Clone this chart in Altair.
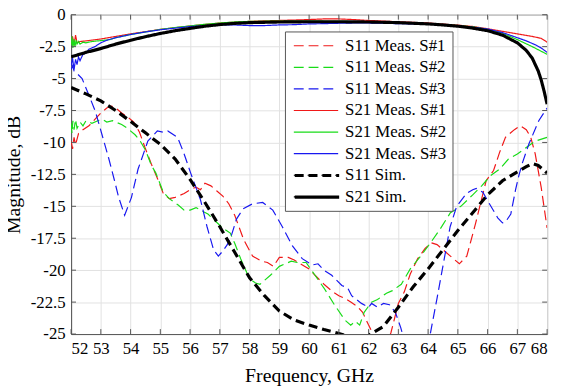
import altair as alt
import pandas as pd

# ---------------- data ----------------
names = ["S11 Meas. S#1", "S11 Meas. S#2", "S11 Meas. S#3",
         "S21 Meas. S#1", "S21 Meas. S#2", "S21 Meas. S#3",
         "S11 Sim.", "S21 Sim."]

s11_m1_x = [52.0, 52.05, 52.1, 52.15, 52.25, 52.4, 52.6, 52.8, 53.0, 53.2, 53.35, 53.5, 53.7, 53.9,
            54.1, 54.3, 54.5, 54.7, 54.9, 55.1, 55.3, 55.5, 55.8, 56.0, 56.2, 56.35, 56.5, 56.7, 56.9,
            57.1, 57.3, 57.5, 57.8, 58.1, 58.4, 58.6, 58.8, 59.0, 59.3, 59.5, 59.7, 60.0, 60.2, 60.5,
            60.8, 61.0, 61.2, 61.4, 61.6, 61.8, 62.0, 62.15, 62.3, 62.5, 62.65, 62.75, 63.0, 63.2,
            63.4, 63.65, 63.9, 64.1, 64.3, 64.5, 64.75, 65.05, 65.3, 65.6, 65.95, 66.2, 66.4, 66.6,
            66.9, 67.1, 67.3, 67.45, 67.6, 67.8, 68.0]
s11_m1_y = [-9.9, -10.5, -9.6, -10.2, -9.3, -9.0, -8.7, -8.2, -7.7, -7.3, -7.15, -7.3, -7.7, -8.0,
            -8.4, -9.2, -10.5, -11.7, -12.8, -14.0, -14.4, -14.3, -14.0, -13.7, -13.5, -13.7, -13.2,
            -13.4, -13.8, -14.2, -14.8, -15.7, -17.6, -18.9, -19.3, -19.4, -19.7, -19.0, -19.0, -19.2,
            -19.5, -19.9, -20.4, -21.1, -21.7, -22.0, -22.2, -22.5, -22.8, -23.3, -24.3, -25.0, -25.6,
            -26.0, -25.5, -24.9, -22.6, -21.7, -20.3, -19.1, -18.3, -17.85, -18.0, -18.4, -18.9, -19.5,
            -18.9, -16.3, -13.0, -12.2, -10.8, -9.6, -9.0, -8.7, -9.0, -9.6, -10.9, -13.5, -16.7]

s11_m2_x = [52.0, 52.03, 52.06, 52.1, 52.15, 52.2, 52.3, 52.4, 52.5, 52.7, 52.9, 53.05, 53.2, 53.4,
            53.7, 53.9, 54.15, 54.3, 54.5, 54.7, 54.85, 55.1, 55.3, 55.6, 55.8, 56.0, 56.2, 56.35, 56.6,
            56.8, 57.1, 57.35, 57.5, 57.7, 58.0, 58.2, 58.35, 58.5, 58.7, 59.0, 59.2, 59.4, 59.6, 59.9,
            60.2, 60.5, 60.85, 61.2, 61.4, 61.55, 61.7, 61.85, 62.1, 62.3, 62.6, 62.8, 63.1, 63.4,
            63.75, 64.1, 64.4, 64.75, 65.1, 65.5, 65.8, 66.1, 66.4, 66.7, 67.0, 67.3, 67.6, 68.0]
s11_m2_y = [-8.5, -9.3, -8.3, -9.0, -8.2, -8.9, -8.4, -8.7, -8.3, -8.5, -8.3, -8.2, -8.4, -8.3,
            -8.6, -8.9, -9.4, -9.8, -10.6, -11.8, -12.4, -13.9, -14.4, -14.9, -15.3, -15.3, -15.1,
            -15.3, -15.6, -16.05, -16.7, -17.1, -17.9, -19.1, -20.7, -21.0, -21.1, -20.8, -20.4, -19.7,
            -19.5, -19.3, -19.4, -19.4, -20.4, -21.4, -22.7, -23.9, -24.3, -24.0, -24.3, -23.3, -22.5,
            -22.3, -21.8, -21.6, -21.1, -19.9, -18.9, -17.8, -16.8, -15.5, -15.0, -14.1, -13.4, -12.6,
            -12.1, -11.3, -10.9, -10.4, -9.9, -9.6]

s11_m3_x = [52.0, 52.05, 52.1, 52.2, 52.37, 52.6, 52.82, 53.04, 53.26, 53.45, 53.6, 53.8, 54.03, 54.25,
            54.58, 54.9, 55.1, 55.25, 55.58, 55.8, 56.02, 56.35, 56.57, 56.79, 56.95, 57.1, 57.25, 57.4,
            57.56, 57.78, 58.1, 58.44, 58.78, 59.1, 59.44, 59.77, 60.1, 60.3, 60.5, 60.76, 61.1, 61.3,
            61.43, 61.76, 62.0, 62.1, 62.3, 62.5, 62.7, 62.9, 63.08, 63.2, 63.5, 63.9, 64.08, 64.3,
            64.52, 64.74, 64.96, 65.29, 65.5, 65.62, 65.84, 66.06, 66.34, 66.5, 66.61, 66.78, 66.94,
            67.05, 67.17, 67.39, 67.72, 68.0]
s11_m3_y = [-4.3, -4.0, -4.4, -4.6, -5.0, -6.3, -7.6, -9.4, -11.2, -12.9, -14.3, -15.7, -14.3, -12.1,
            -9.9, -9.1, -9.2, -9.1, -9.6, -10.9, -12.4, -14.5, -16.6, -18.4, -18.9, -18.5, -18.0, -17.2,
            -16.0, -15.2, -14.8, -14.7, -15.3, -16.6, -18.1, -19.1, -19.6, -19.5, -20.0, -20.4, -21.2,
            -21.4, -22.0, -22.6, -22.9, -22.6, -22.9, -22.6, -22.7, -23.3, -24.5, -25.5, -27.0, -26.5,
            -24.9, -22.2, -19.4, -16.6, -15.0, -14.0, -13.7, -13.6, -13.9, -14.8, -15.9, -16.3, -16.2,
            -15.6, -13.7, -12.6, -11.6, -10.1, -8.3, -7.3]

s21_m1_x = [52.0, 52.05, 52.1, 52.15, 52.2, 52.3, 52.5, 53.0, 54.0, 55.0, 56.0, 57.0, 58.0, 59.0,
            60.0, 60.5, 61.0, 61.5, 62.0, 63.0, 64.0, 65.0, 65.5, 66.0, 66.5, 67.0, 67.5, 67.8, 68.0]
s21_m1_y = [-2.3, -1.7, -2.4, -1.6, -2.2, -2.1, -2.05, -1.9, -1.5, -1.15, -0.88, -0.65, -0.52, -0.45,
            -0.38, -0.33, -0.33, -0.38, -0.45, -0.55, -0.65, -0.82, -0.92, -1.1, -1.3, -1.5, -1.7,
            -1.85, -2.15]

s21_m2_x = [52.0, 52.03, 52.06, 52.1, 52.13, 52.17, 52.2, 52.25, 52.3, 52.4, 52.5, 52.7, 52.9, 53.1,
            53.3, 53.5, 54.0, 54.5, 55.0, 55.5, 56.0, 56.5, 57.0, 57.5, 58.0, 59.0, 60.0, 61.0, 62.0,
            63.0, 64.0, 65.0, 65.5, 66.0, 66.5, 67.0, 67.5, 68.0]
s21_m2_y = [-2.4, -1.7, -2.6, -1.9, -2.5, -2.0, -2.3, -2.1, -2.3, -2.15, -2.2, -2.1, -2.05, -2.0,
            -1.95, -1.8, -1.55, -1.35, -1.15, -1.0, -0.88, -0.75, -0.65, -0.57, -0.52, -0.5, -0.5,
            -0.52, -0.55, -0.6, -0.7, -0.85, -0.95, -1.15, -1.45, -1.95, -2.5, -3.1]

s21_m3_x = [52.0, 52.05, 52.1, 52.15, 52.2, 52.25, 52.3, 52.4, 52.5, 52.6, 52.8, 53.0, 53.2, 53.5,
            54.0, 54.5, 55.0, 55.5, 56.0, 56.5, 57.0, 57.5, 58.0, 58.5, 59.0, 59.5, 60.0, 60.5, 61.0,
            61.5, 62.0, 62.5, 63.0, 63.5, 64.0, 64.5, 65.0, 65.5, 66.0, 66.5, 67.0, 67.3, 67.6, 67.8, 68.0]
s21_m3_y = [-4.0, -3.4, -4.3, -3.5, -3.9, -3.3, -3.6, -3.1, -3.0, -2.7, -2.5, -2.2, -2.0, -1.8,
            -1.55, -1.35, -1.18, -1.05, -0.93, -0.85, -0.8, -0.8, -0.85, -0.85, -0.8, -0.78, -0.72,
            -0.7, -0.67, -0.65, -0.65, -0.67, -0.7, -0.72, -0.75, -0.8, -0.88, -0.98, -1.12, -1.4,
            -1.8, -2.05, -2.35, -2.6, -2.95]

s11_sim_x = [52.0, 52.5, 53.0, 53.5, 54.0, 54.5, 55.0, 55.5, 56.0, 56.5, 57.0, 57.5, 58.0, 58.5, 59.0,
             59.5, 60.0, 60.5, 61.0, 61.5, 62.0, 62.5, 63.0, 63.5, 64.0, 64.5, 65.0, 65.5, 66.0, 66.5,
             67.0, 67.3, 67.5, 67.7, 68.0]
s11_sim_y = [-5.7, -6.2, -6.75, -7.5, -8.35, -9.25, -10.15, -11.3, -12.9, -14.7, -16.6, -18.6, -20.6,
             -22.0, -23.2, -23.9, -24.3, -24.65, -24.95, -25.3, -25.1, -24.4, -22.9, -21.3, -19.9,
             -18.4, -16.9, -15.5, -14.1, -13.0, -12.3, -11.9, -11.65, -11.8, -12.4]

s21_sim_x = [52.0, 52.5, 53.0, 53.5, 54.0, 54.5, 55.0, 55.5, 56.0, 56.5, 57.0, 57.5, 58.0, 59.0, 60.0,
             61.0, 62.0, 63.0, 64.0, 64.5, 65.0, 65.5, 66.0, 66.5, 67.0, 67.3, 67.5, 67.7, 67.8, 67.9, 68.0]
s21_sim_y = [-3.3, -2.95, -2.65, -2.3, -2.0, -1.72, -1.47, -1.25, -1.07, -0.9, -0.77, -0.68, -0.62,
             -0.57, -0.55, -0.55, -0.57, -0.62, -0.72, -0.8, -0.9, -1.05, -1.25, -1.6, -2.2, -2.8,
             -3.4, -4.4, -5.1, -6.0, -7.0]

series_x = [s11_m1_x, s11_m2_x, s11_m3_x, s21_m1_x, s21_m2_x, s21_m3_x, s11_sim_x, s21_sim_x]
series_y = [s11_m1_y, s11_m2_y, s11_m3_y, s21_m1_y, s21_m2_y, s21_m3_y, s11_sim_y, s21_sim_y]

x_ticks = list(range(52, 69))
y_ticks = [0, -2.5, -5, -7.5, -10, -12.5, -15, -17.5, -20, -22.5, -25]

# ---------------- styles ----------------
colors = ["#f01818", "#18dc18", "#1818f0", "#f01818", "#18dc18", "#1818f0", "#000000", "#000000"]
dashes = [[10, 5], [10, 5], [10, 5], [1, 0], [1, 0], [1, 0], [9, 5], [1, 0]]
widths = [1.2, 1.2, 1.2, 1.2, 1.2, 1.2, 3.2, 3.2]
N_MEAS = 6

W, H = 483, 324
ROW_PAD = 3.9
ROW_PITCH = 21.77

frames = []
for n, xs, ys in zip(names, series_x, series_y):
    frames.append(pd.DataFrame({"x": xs, "y": ys, "series": n}))

common_leg = dict(
    title=None, orient="none", legendX=217,
    symbolType="M-3,0H3", symbolSize=225, symbolOffset=17, symbolFillColor="transparent",
    labelFont="Liberation Serif", labelFontSize=17, labelLimit=0,
    labelOffset=21, rowPadding=ROW_PAD, padding=6,
)
# main legend: all eight entries, coloured and dashed
legend_all = alt.Legend(legendY=17, labelColor="black", symbolStrokeWidth=widths[0],
                        strokeColor="#555555", fillColor="white", **common_leg)
# thick strokes for the two simulated entries, laid exactly over their rows (no text of its own)
legend_sim = alt.Legend(legendY=17 + N_MEAS * ROW_PITCH, labelOpacity=0, labelColor="white",
                        labelExpr="''", symbolStrokeWidth=widths[-1], zindex=2, **common_leg)

x_scale = alt.Scale(domain=[52, 68], nice=False, zero=False)
y_scale = alt.Scale(domain=[-25, 0], nice=False, zero=False)
x_axis = alt.Axis(values=x_ticks, title="Frequency, GHz", titleY=42, titleBaseline="middle",
                  labelPadding=7, grid=True, labelOverlap=False)
y_axis = alt.Axis(values=y_ticks, title="Magnitude, dB", labelExpr="'' + datum.value",
                  titleX=-58, titleY=H / 2, titleBaseline="middle", titleAlign="center",
                  labelPadding=6, grid=True, labelOverlap=False)


def line_layer(df, w, color_enc, dash_enc):
    return alt.Chart(df).mark_line(clip=True, strokeWidth=w).encode(
        x=alt.X("x:Q", scale=x_scale, axis=x_axis),
        y=alt.Y("y:Q", scale=y_scale, axis=y_axis),
        color=color_enc,
        strokeDash=dash_enc,
    )


meas_color = alt.Color("series:N", scale=alt.Scale(domain=names, range=colors), legend=legend_all)
meas_dash = alt.StrokeDash("series:N", scale=alt.Scale(domain=names, range=dashes), legend=legend_all)
sim_color = alt.Color("series:N", scale=alt.Scale(domain=names[N_MEAS:], range=colors[N_MEAS:]),
                      legend=legend_sim)
sim_dash = alt.StrokeDash("series:N", scale=alt.Scale(domain=names[N_MEAS:], range=dashes[N_MEAS:]),
                          legend=legend_sim)

meas_group = alt.layer(*[line_layer(frames[i], widths[i], meas_color, meas_dash) for i in range(N_MEAS)])
sim_group = alt.layer(*[line_layer(frames[i], widths[i], sim_color, sim_dash)
                        for i in range(N_MEAS, len(names))])

xt = pd.DataFrame({"x": x_ticks})
yt = pd.DataFrame({"y": y_ticks})
tick_color = "#555555"
ticks = alt.layer(
    alt.Chart(xt).mark_rule(color=tick_color, strokeWidth=1).encode(
        x=alt.X("x:Q", scale=x_scale, axis=x_axis), y=alt.value(H), y2=alt.value(H - 5)),
    alt.Chart(xt).mark_rule(color=tick_color, strokeWidth=1).encode(
        x=alt.X("x:Q", scale=x_scale, axis=x_axis), y=alt.value(0), y2=alt.value(5)),
    alt.Chart(yt).mark_rule(color=tick_color, strokeWidth=1).encode(
        y=alt.Y("y:Q", scale=y_scale, axis=y_axis), x=alt.value(0), x2=alt.value(5)),
    alt.Chart(yt).mark_rule(color=tick_color, strokeWidth=1).encode(
        y=alt.Y("y:Q", scale=y_scale, axis=y_axis), x=alt.value(W), x2=alt.value(W - 5)),
)

chart = alt.layer(meas_group, sim_group, ticks).resolve_scale(
    color="independent", strokeDash="independent"
).properties(
    width=W, height=H,
    autosize=alt.AutoSizeParams(type="none"),
    padding={"left": 64, "top": 4, "right": 8, "bottom": 56},
    background="white",
).configure_view(
    stroke="#555555", strokeWidth=1
).configure_axis(
    gridColor="#e2e2e2", gridWidth=1, domainColor="#555555", domainWidth=1, ticks=False,
    labelFont="Liberation Serif", labelFontSize=17, labelColor="black",
    titleFont="Liberation Serif", titleFontSize=20, titleColor="black", titleFontWeight="normal",
)

chart.save("out.html", embed_options={"renderer": "svg", "actions": False})
